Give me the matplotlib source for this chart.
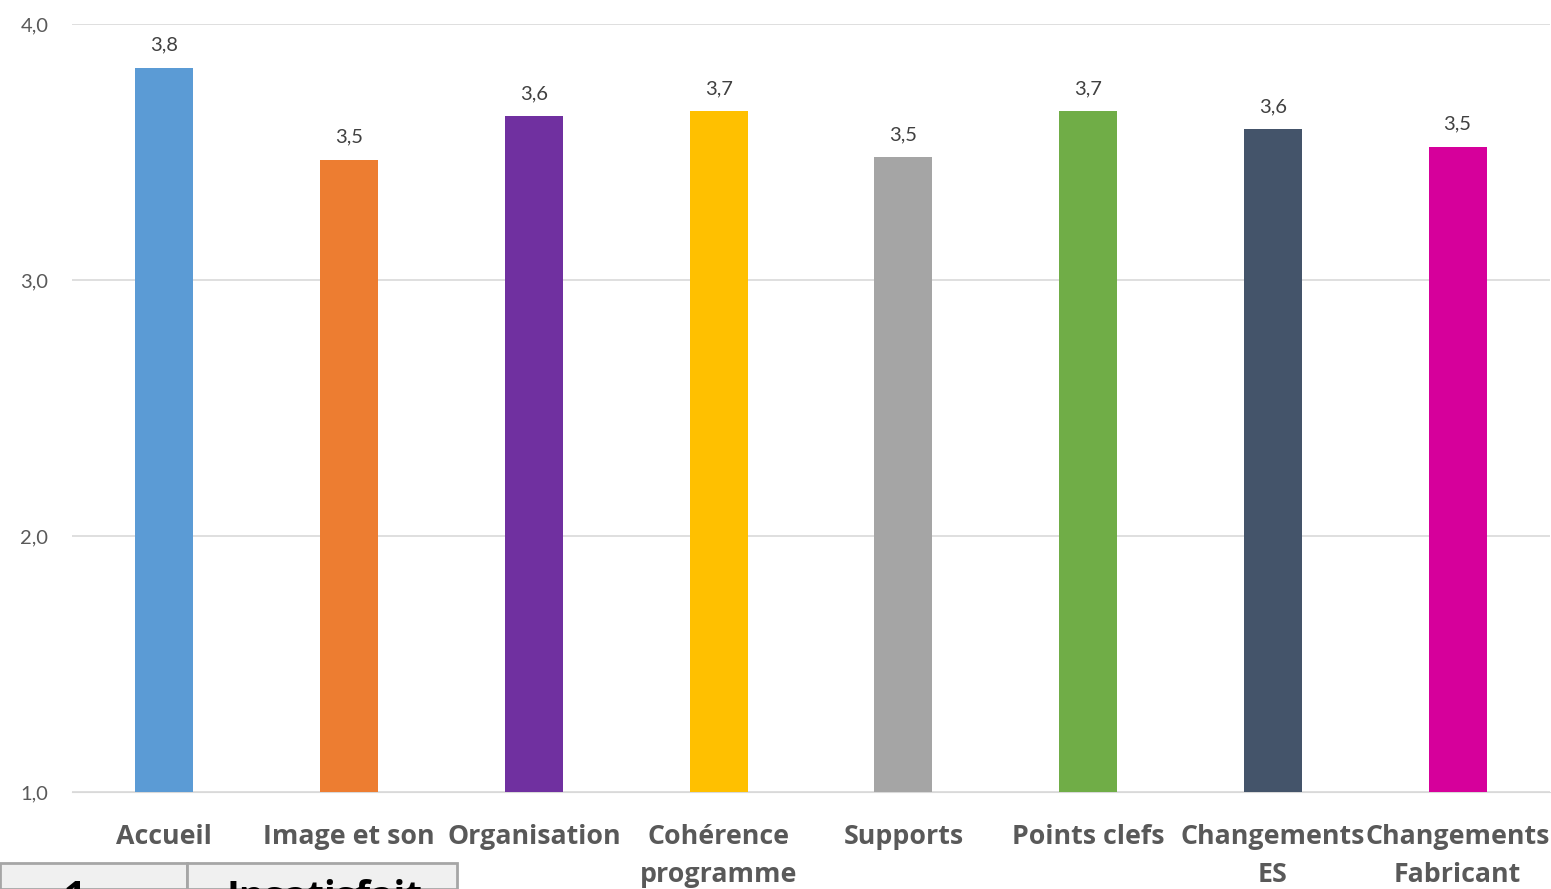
import numpy as np
import matplotlib.pyplot as plt
from matplotlib.patches import Rectangle

plt.rcParams['font.family'] = ['Lato', 'DejaVu Sans']

# Données
categories = ["Accueil", "Image et son", "Organisation", "Cohérence\nprogramme",
              "Supports", "Points clefs", "Changements\nES", "Changements\nFabricant"]
valeurs = [3.83, 3.47, 3.64, 3.66, 3.48, 3.66, 3.59, 3.52]
couleurs = ["#5B9BD5", "#ED7D31", "#7030A0", "#FFC000",
            "#A5A5A5", "#70AD47", "#44546A", "#D6009B"]
yticks = [1.0, 2.0, 3.0, 4.0]

W, H = 1551, 889
fig = plt.figure(figsize=(W / 100, H / 100), dpi=100)
ax = fig.add_axes([72 / W, 1 - 792 / H, (1550 - 72) / W, (792 - 24) / H])

x = np.arange(len(categories))
bars = ax.bar(x, valeurs, width=0.315, color=couleurs, bottom=0, zorder=3)
ax.set_ylim(1, 4)
ax.set_xlim(-0.5, len(categories) - 0.5)

for xi, v in zip(x, valeurs):
    ax.text(xi, v + 0.055, f"{v:.1f}".replace(".", ","), ha="center", va="bottom",
            fontsize=14.5, color="#404040")

ax.set_yticks(yticks)
ax.set_yticklabels([f"{t:.1f}".replace(".", ",") for t in yticks], fontsize=14.5, color="#595959")
ax.set_xticks(x)
ax.set_xticklabels(categories, fontsize=19.3, fontweight="bold", color="#595959",
                   family=["Open Sans", "DejaVu Sans"], linespacing=1.6, va="top")
ax.tick_params(axis="both", length=0)
ax.tick_params(axis="x", pad=23)
ax.tick_params(axis="y", pad=17)
ax.grid(axis="y", color="#D9D9D9", linewidth=1.2, zorder=0)
for s in ["top", "right", "left"]:
    ax.spines[s].set_visible(False)
ax.spines["bottom"].set_color("#D9D9D9")

# Fragment du tableau en bas à gauche
top = 1 - 863 / H
fig.patches.append(Rectangle((0, 0), 187 / W, top, transform=fig.transFigure,
                             facecolor="#F0F0F0", edgecolor="#A6A6A6", linewidth=2))
fig.patches.append(Rectangle((187 / W, 0), (457 - 187) / W, top, transform=fig.transFigure,
                             facecolor="#F0F0F0", edgecolor="#A6A6A6", linewidth=2))
fig.text(75 / W, 1 - 879 / H, "1", fontsize=28, fontweight="bold", color="black",
         family=["Open Sans", "DejaVu Sans"], ha="center", va="top")
fig.text(325 / W, 1 - 879 / H, "Insatisfait", fontsize=28, fontweight="bold",
         family=["Open Sans", "DejaVu Sans"], color="black", ha="center", va="top")

fig.savefig("out.png", dpi=100)
